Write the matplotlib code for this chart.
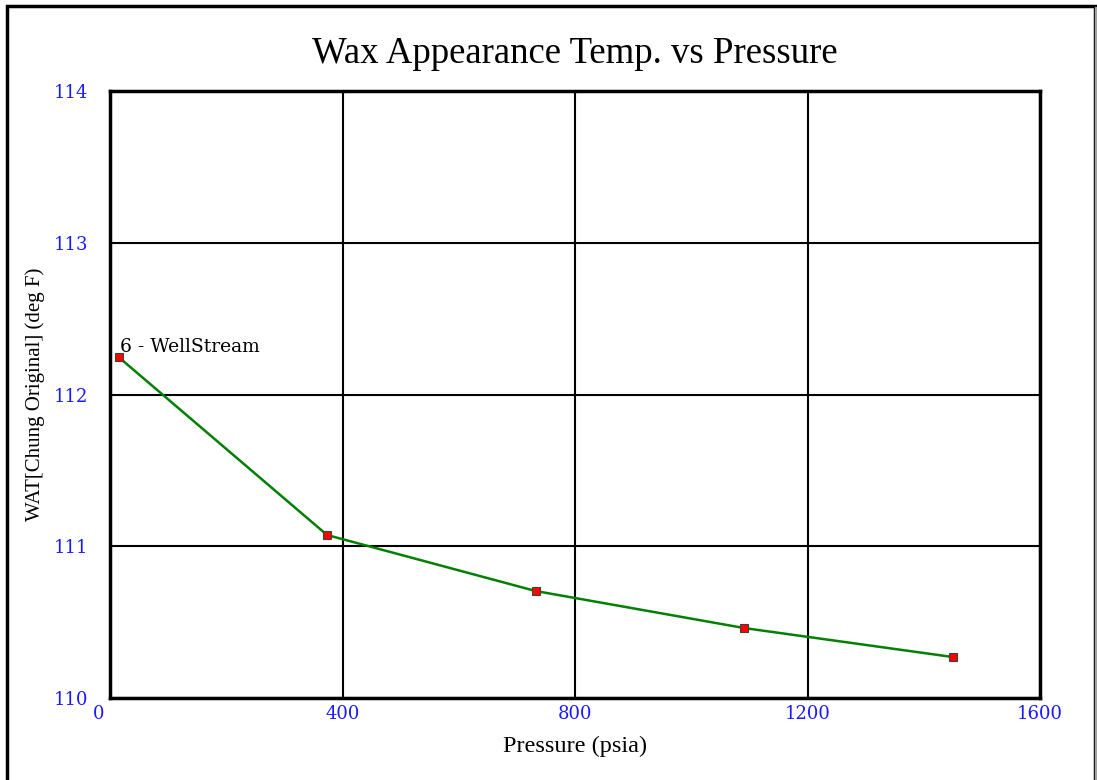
import numpy as np
import matplotlib.pyplot as plt
import matplotlib as mpl
import matplotlib.transforms as mtransforms
from matplotlib.patches import Rectangle

mpl.rcParams['font.family'] = ['Liberation Serif', 'DejaVu Serif']

# data
pressure = [14.7, 373.5, 732.3, 1091.1, 1449.9]
wat = [112.247, 111.074, 110.705, 110.461, 110.270]
stream_name = '6 - WellStream'

x_ticks = [0, 400, 800, 1200, 1600]
y_ticks = [110, 111, 112, 113, 114]

fig = plt.figure(figsize=(10.97, 7.8), dpi=100)
ax = fig.add_axes([110/1097, 1 - 698/780, 930/1097, 607/780])

# outer frame of the picture
fig.patches.append(Rectangle((7/1097, -0.01), 1088/1097, 1 - 6/780 + 0.01,
                             transform=fig.transFigure, fill=False,
                             edgecolor='black', linewidth=2.5, zorder=0))
fig.patches.append(Rectangle((1095/1097, 0), 0.001, 1 - 7/780,
                             transform=fig.transFigure, color='#a0a0a0',
                             zorder=1))

ax.plot(pressure, wat, color='#008000', linewidth=1.8, zorder=3)
ax.plot(pressure, wat, linestyle='none', marker='s', markersize=6,
        markerfacecolor='#ff0000', markeredgecolor='#404040',
        markeredgewidth=0.8, zorder=4)
ax.annotate(stream_name, (pressure[0], wat[0]), xytext=(1, 1),
            textcoords='offset points', fontsize=13.5, family='DejaVu Serif',
            ha='left', va='bottom')

ax.set_xlim(0, 1600)
ax.set_ylim(110, 114)
ax.set_xticks(x_ticks)
ax.set_yticks(y_ticks)
ax.grid(True, color='black', linewidth=1.5)
ax.set_axisbelow(True)
for s in ax.spines.values():
    s.set_linewidth(2.5)
ax.tick_params(length=0, labelcolor='#1a1aff')
ax.tick_params(axis='x', pad=5)
ax.tick_params(axis='y', pad=16)
for lbl in ax.get_xticklabels() + ax.get_yticklabels():
    lbl.set_family('DejaVu Serif')
    lbl.set_fontsize(13)
zero = ax.get_xticklabels()[0]
zero.set_horizontalalignment('right')
zero.set_transform(zero.get_transform() +
                   mtransforms.ScaledTranslation(-6/100, 0, fig.dpi_scale_trans))

ax.set_title('Wax Appearance Temp. vs Pressure', fontsize=26.5, pad=20)
ax.set_xlabel('Pressure (psia)', fontsize=17.5, labelpad=9)
ax.set_ylabel('WAT[Chung Original] (deg F)', fontsize=15, labelpad=6)

fig.savefig('out.png', dpi=100)
